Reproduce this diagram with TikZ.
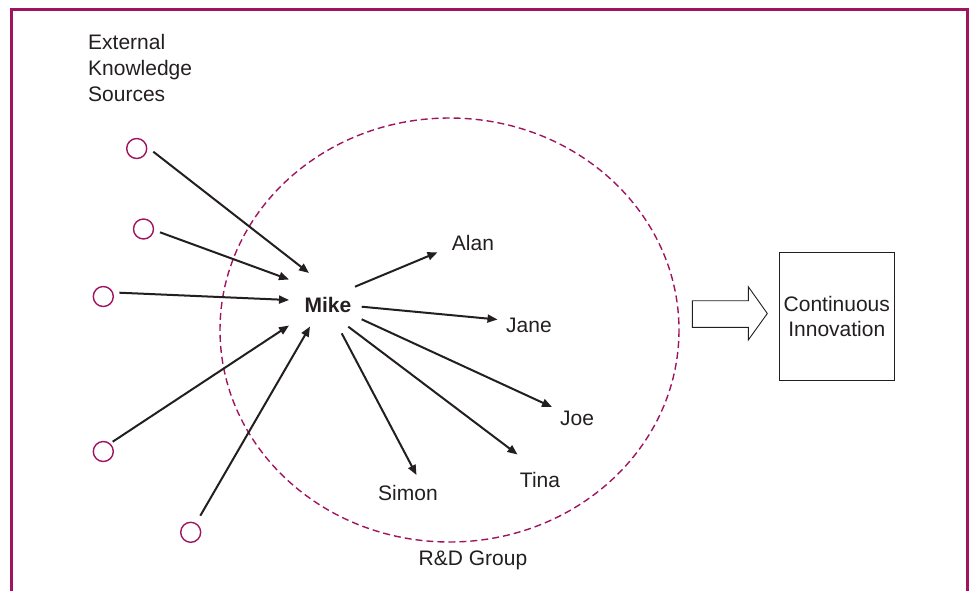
\documentclass[tikz,border=0pt]{standalone}
\usepackage{fontspec}
\setmainfont{Liberation Sans}
\usetikzlibrary{arrows.meta,shapes.geometric}
\definecolor{frame}{HTML}{A0145F}
\definecolor{ink}{HTML}{231F20}
\tikzset{
  lbl/.style={text=ink,inner sep=0pt,font=\fontsize{21}{26}\selectfont},
  src/.style={circle,draw=frame,line width=1.4pt,minimum size=20pt,inner sep=0pt},
  arr/.style={draw=ink,line width=2pt,-{Triangle[length=10pt,width=8pt]}},
}
\begin{document}
\begin{tikzpicture}[x=1pt,y=-1pt]
\useasboundingbox (0,0) rectangle (970,590);
% frame
\draw[frame,line width=3pt] (11,592) -- (11,9) -- (967,9) -- (967,592);
% group ellipse
\draw[frame,line width=1.4pt,dash pattern=on 7pt off 4pt] (449.5,330) ellipse [x radius=229.5,y radius=212];
% texts
\node[lbl,align=left,anchor=west] (ext) at (88,68) {External\\Knowledge\\Sources};
\node[lbl,font=\fontsize{21}{26}\selectfont\bfseries] (mike) at (328,305) {Mike};
\node[lbl] (alan) at (473,243) {Alan};
\node[lbl] (jane) at (529,325) {Jane};
\node[lbl] (joe) at (577,418) {Joe};
\node[lbl] (tina) at (540,480) {Tina};
\node[lbl] (simon) at (408,493) {Simon};
\node[lbl] (rd) at (473,560) {R\&D Group};
% sources
\node[src] (s1) at (136.7,148.5) {};
\node[src] (s2) at (143.5,229) {};
\node[src] (s3) at (103.3,296.5) {};
\node[src] (s4) at (103.3,451.5) {};
\node[src] (s5) at (190.7,532.3) {};
% arrow endpoints near Mike
\coordinate (i1a) at (153.3,151.7); \coordinate (i1b) at (309,273);
\coordinate (i2a) at (160,232.3);   \coordinate (i2b) at (289,279.5);
\coordinate (i3a) at (119.3,292.7); \coordinate (i3b) at (289,300);
\coordinate (i4a) at (112.7,441.7); \coordinate (i4b) at (289,325.5);
\coordinate (i5a) at (200.3,515.7); \coordinate (i5b) at (310,326.5);
\draw[arr] (i1a) -- (i1b);
\draw[arr] (i2a) -- (i2b);
\draw[arr] (i3a) -- (i3b);
\draw[arr] (i4a) -- (i4b);
\draw[arr] (i5a) -- (i5b);
% outgoing
\coordinate (o1a) at (355,286.7); \coordinate (o1b) at (437.5,252.3);
\coordinate (o2a) at (361.7,306.7); \coordinate (o2b) at (497.5,319.5);
\coordinate (o3a) at (361.7,319.3); \coordinate (o3b) at (552,407);
\coordinate (o4a) at (348.3,326.7); \coordinate (o4b) at (517.5,454.5);
\coordinate (o5a) at (341.7,333.3); \coordinate (o5b) at (416.5,475);
\draw[arr] (o1a) -- (o1b);
\draw[arr] (o2a) -- (o2b);
\draw[arr] (o3a) -- (o3b);
\draw[arr] (o4a) -- (o4b);
\draw[arr] (o5a) -- (o5b);
% block arrow
\draw[ink,line width=0.9pt,fill=white] (692.3,300.7) -- (748.3,300.7) -- (748.3,286.7) -- (767.3,313.5) -- (748.3,340) -- (748.3,327.3) -- (692.3,327.3) -- cycle;
% result box
\node[draw=ink,line width=0.9pt,minimum width=115pt,minimum height=127.7pt,inner sep=0pt,align=center,text=ink,font=\fontsize{21}{25}\selectfont] (ci) at (836.8,316.2) {\raisebox{-2pt}{\parbox{110pt}{\centering Continuous\\Innovation}}};
\end{tikzpicture}
\end{document}
